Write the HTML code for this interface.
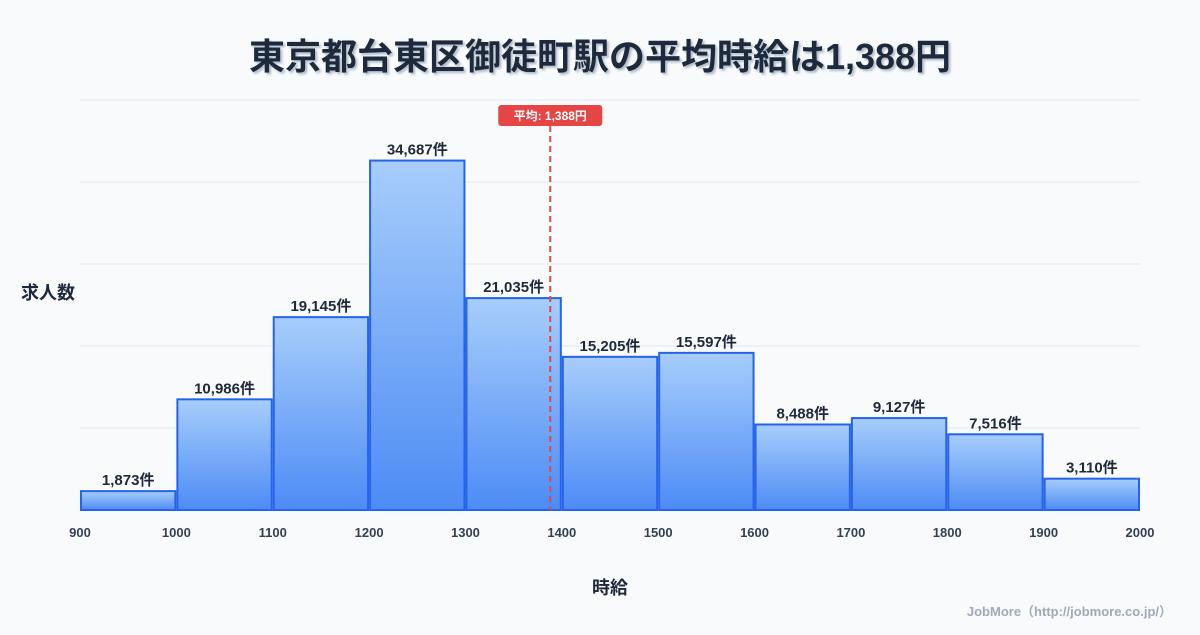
<!DOCTYPE html>
<html><head><meta charset="utf-8">
<style>
html,body{margin:0;padding:0;background:#f8fafc;}
body{width:1200px;height:630px;overflow:hidden;font-family:"Liberation Sans","Noto Sans CJK JP",sans-serif;}
</style></head>
<body>
<svg id="chart" width="1200" height="630" xmlns="http://www.w3.org/2000/svg" style="font-family:'Liberation Sans','Noto Sans CJK JP',sans-serif">
<defs>
<linearGradient id="barGrad" x1="0" y1="0" x2="0" y2="1">
<stop offset="0" stop-color="#a7cdfb"/><stop offset="1" stop-color="#4d8cf5"/>
</linearGradient>
<filter id="ts" x="-5%" y="-20%" width="110%" height="140%"><feDropShadow dx="2" dy="2" stdDeviation="1" flood-color="#94a3b8" flood-opacity="0.7"/></filter>
</defs>
<rect width="1200" height="630" fill="#f8fafc"/>
<text x="600" y="69" text-anchor="middle" font-size="36" font-weight="bold" fill="#1e293b" filter="url(#ts)">東京都台東区御徒町駅の平均時給は1,388円</text>
<g id="grid"></g>
<g id="bars"></g>
<g id="labels"></g>
<g id="xticks"></g>
<g id="avg"></g>
<text x="48" y="299" text-anchor="middle" font-size="18" font-weight="bold" fill="#1e293b">求人数</text>
<text x="610" y="594" text-anchor="middle" font-size="18" font-weight="bold" fill="#1e293b">時給</text>
<text x="1172" y="616" text-anchor="end" font-size="13" font-weight="bold" fill="#a0aab8">JobMore（http://jobmore.co.jp/）</text>
</svg>
<script>
const binStarts=[900,1000,1100,1200,1300,1400,1500,1600,1700,1800,1900];
const counts=[1873,10986,19145,34687,21035,15205,15597,8488,9127,7516,3110];
const xTickLabels=[900,1000,1100,1200,1300,1400,1500,1600,1700,1800,1900,2000];
const average=1388;
const avgLabel="平均: 1,388円";

const NS="http://www.w3.org/2000/svg";
const X0=80,X1=1140,Y0=510,YT=100,XMIN=900,XMAX=2000,YMAX=40700;
const xs=v=>X0+(v-XMIN)/(XMAX-XMIN)*(X1-X0);
const ys=v=>Y0-v/YMAX*(Y0-YT);
function mk(tag,attrs,parent){const e=document.createElementNS(NS,tag);for(const k in attrs)e.setAttribute(k,attrs[k]);parent.appendChild(e);return e;}
const grid=document.getElementById('grid');
for(let i=0;i<=5;i++){
  const y=YT+i*(Y0-YT)/5;
  const l=mk('line',{x1:X0,x2:X1,y1:y,y2:y,stroke:'#e2e8f0','stroke-width':1},grid);
  
  
}
const bars=document.getElementById('bars'),labels=document.getElementById('labels');
binStarts.forEach((b,i)=>{
  const x=xs(b)+1,w=xs(b+100)-xs(b)-2,y=ys(counts[i]);
  const r=mk('rect',{x:x,y:y,width:w,height:Y0-y,fill:'url(#barGrad)',stroke:'#2563eb','stroke-width':2},bars);
  
  
  const t=mk('text',{x:x+w/2,y:y-6,'text-anchor':'middle','font-size':15,'font-weight':'bold',fill:'#1e293b'},labels);
  t.textContent=counts[i].toLocaleString('en-US')+'件';
  
  
});
const xt=document.getElementById('xticks');
xTickLabels.forEach(v=>{
  const t=mk('text',{x:xs(v),y:537,'text-anchor':'middle','font-size':13,'font-weight':'bold',fill:'#334155'},xt);
  t.textContent=v;
  
  
});
const avg=document.getElementById('avg');
const ax=xs(average);
const al=mk('line',{x1:ax,x2:ax,y1:126,y2:Y0,stroke:'#e04848','stroke-width':2,'stroke-dasharray':'6,4'},avg);


const ar=mk('rect',{x:ax-52,y:105,width:104,height:21,rx:3,fill:'#e54545'},avg);


const at=mk('text',{x:ax,y:120,'text-anchor':'middle','font-size':12,'font-weight':'bold',fill:'#fff'},avg);
at.textContent=avgLabel;


</script>
</body></html>
